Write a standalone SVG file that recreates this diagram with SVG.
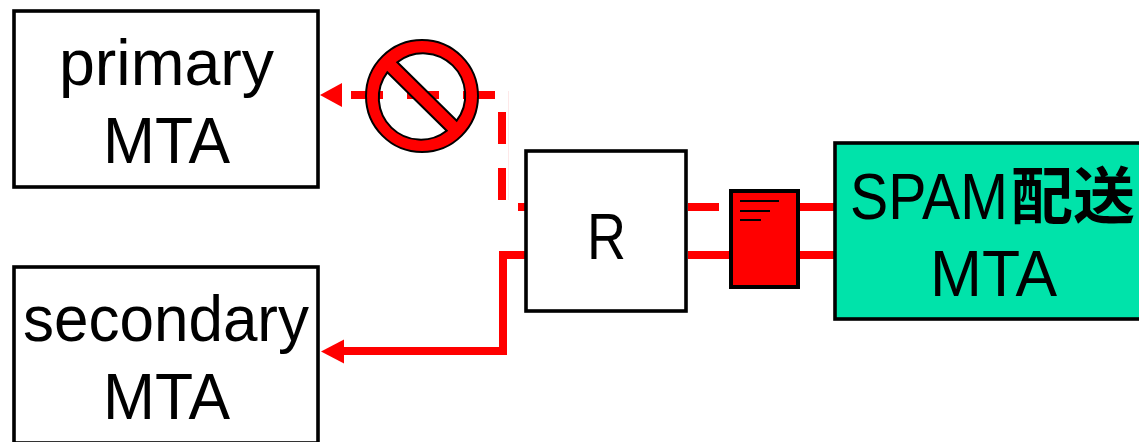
<svg xmlns="http://www.w3.org/2000/svg" width="1139" height="442" viewBox="0 0 1139 442">
<style>
.box{stroke:#000;stroke-width:3.600;fill:#fff}
.t{font-family:"Liberation Sans","Noto Sans CJK JP",sans-serif;font-size:64px;fill:#000}
.j{font-family:"Noto Sans CJK JP",sans-serif;font-size:62px;font-weight:700}
.w{fill:none;stroke:#f00;stroke-width:8}
.a{fill:#f00}
</style>
<rect width="1139" height="442" fill="#fff"/>
<g id="connectors">
<path class="w" d="M351 95H383M407 95H439M463 95H495"/>
<path class="w" d="M502 112V144M502 168V200M518 207H526"/>
<path d="M508.500 91V200" stroke="#fde8e8" stroke-width="1" fill="none"/>
<polygon class="a" points="320,95 342,83 342,107"/>
<path class="w" d="M688 207H719M800 207H835M688 255H729M800 255H835"/>
<path class="w" d="M526 255H503V351H342"/>
<polygon class="a" points="321,351.500 344,339.500 344,363.500"/>
</g>
<g id="primary"><rect class="box" x="14" y="11" width="304" height="176"/><text class="t" x="59" y="85" textLength="215" lengthAdjust="spacingAndGlyphs">primary</text><text class="t" x="103" y="163" textLength="127" lengthAdjust="spacingAndGlyphs">MTA</text></g>
<g id="secondary"><rect class="box" x="14" y="267" width="304" height="176"/><text class="t" x="23" y="341" textLength="286" lengthAdjust="spacingAndGlyphs">secondary</text><text class="t" x="103" y="419" textLength="127" lengthAdjust="spacingAndGlyphs">MTA</text></g>
<g id="router"><rect class="box" x="526" y="151" width="160" height="160"/><text class="t" x="587" y="259" textLength="39" lengthAdjust="spacingAndGlyphs">R</text></g>
<g id="spam"><rect class="box" x="835" y="143" width="306" height="176" style="fill:#00e3aa"/><text class="t" y="219"><tspan x="850" textLength="158" lengthAdjust="spacingAndGlyphs">SPAM</tspan><tspan class="j" x="1011">配送</tspan></text><text class="t" x="930" y="296" textLength="127" lengthAdjust="spacingAndGlyphs">MTA</text></g>
<g id="mail"><rect x="731" y="191" width="67" height="96" fill="#f00" stroke="#000" stroke-width="4"/><path d="M740 201H779M740 211H770M740 220H761" stroke="#000" stroke-width="2" fill="none"/></g>
<g id="prohibit"><path fill="#f00" fill-rule="evenodd" stroke="#000" stroke-width="2" d="M366 96A56 56 0 1 0 478 96A56 56 0 1 0 366 96ZM397.300 62.300L456.700 120.700A42 42 0 0 0 397.300 62.300ZM387.300 72.300A42 42 0 0 0 446.700 130.700Z"/></g>
</svg>
